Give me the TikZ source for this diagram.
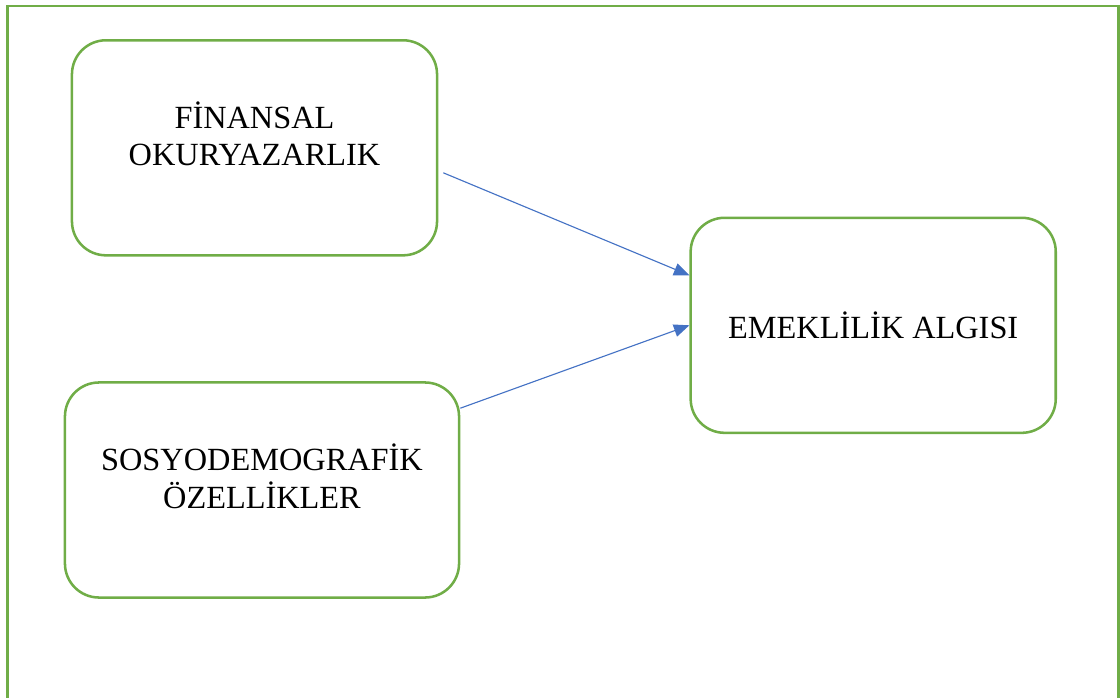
\documentclass[tikz,border=0pt]{standalone}
\usepackage{fontspec}
\setmainfont{Liberation Serif}
\usepackage{xcolor}
\usepackage{tikz}
\usetikzlibrary{positioning, arrows.meta, calc}

\definecolor{officegreen}{HTML}{70AD47}
\definecolor{officeblue}{HTML}{4472C4}

\begin{document}
\begin{tikzpicture}[
  x=0.025cm, y=-0.025cm,
  font=\fontsize{23}{26.8}\selectfont,
  box/.style={draw=officegreen, line width=1.8pt, rounded corners=0.85cm,
              align=center, minimum height=5.375cm, inner sep=0pt},
  twoline/.style={box, text depth=20pt},
  arrow/.style={-{Triangle[length=11pt, width=9pt]}, draw=officeblue, line width=0.8pt},
]
\useasboundingbox (0,0) rectangle (1120,698);
% frame, open at the bottom
\draw[officegreen, line width=1.9pt] (7.3,700) -- (7.3,6) -- (1118.5,6) -- (1118.5,700);

\node[twoline, minimum width=9.125cm] (fin) at (254.5,147.8) {FİNANSAL\\OKURYAZARLIK};
\node[twoline, minimum width=9.85cm] (sos) at (262,490) {SOSYODEMOGRAFİK\\ÖZELLİKLER};
\node[box, minimum width=9.125cm] (eme) at (873.2,325.3) {EMEKLİLİK ALGISI};

\draw[arrow] ($(fin.east)+(5,25)$) -- ($(eme.west)+(0,-50)$);
\draw[arrow] ($(sos.north east)+(0,27)$) -- (eme.west);
\end{tikzpicture}
\end{document}
